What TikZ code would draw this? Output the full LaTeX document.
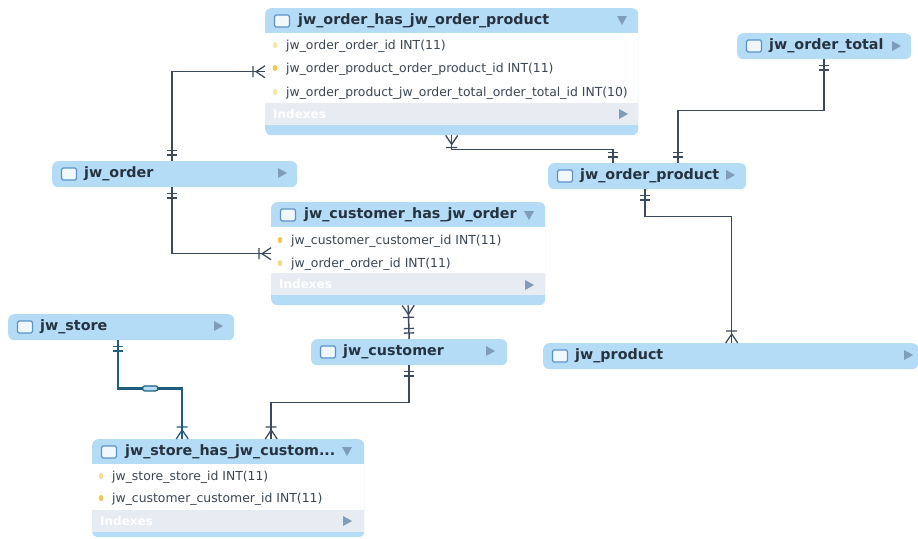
\documentclass[tikz,border=0pt]{standalone}
\usepackage{fontspec}
\setmainfont{DejaVu Sans}
\usetikzlibrary{arrows}
\definecolor{hdrblue}{HTML}{B4DCF6}
\definecolor{idxgray}{HTML}{E7EBF2}
\definecolor{linedark}{HTML}{3B4A5C}
\definecolor{linestore}{HTML}{1F5D7E}
\definecolor{tricol}{HTML}{7F9DB8}
\definecolor{keyyellow}{HTML}{F4C84E}
\definecolor{titlecol}{HTML}{26323F}
\definecolor{rowcol}{HTML}{3A4654}
\definecolor{iconblue}{HTML}{5B93C8}
\newcommand{\storetitle}{jw\_store\_has\_jw\_custom...}
\pgfarrowsdeclare{crow}{crow}
  {\pgfarrowsleftextend{-14pt}\pgfarrowsrightextend{0pt}}
  {\pgfsetdash{}{0pt}\pgfsetlinewidth{1.3pt}
   \pgfpathmoveto{\pgfpoint{0pt}{6pt}}\pgfpathlineto{\pgfpoint{-9pt}{0pt}}\pgfpathlineto{\pgfpoint{0pt}{-6pt}}
   \pgfpathmoveto{\pgfpoint{-12pt}{5.5pt}}\pgfpathlineto{\pgfpoint{-12pt}{-5.5pt}}
   \pgfusepathqstroke}
\pgfarrowsdeclare{one}{one}
  {\pgfarrowsleftextend{-12pt}\pgfarrowsrightextend{0pt}}
  {\pgfsetdash{}{0pt}\pgfsetlinewidth{1.3pt}
   \pgfpathmoveto{\pgfpoint{-6pt}{5pt}}\pgfpathlineto{\pgfpoint{-6pt}{-5pt}}
   \pgfpathmoveto{\pgfpoint{-10.5pt}{5pt}}\pgfpathlineto{\pgfpoint{-10.5pt}{-5pt}}
   \pgfusepathqstroke}
\begin{document}
\begin{tikzpicture}
  [x=1pt,y=-1pt,
   entity/.style={rectangle,rounded corners=6pt,fill=hdrblue,anchor=north west,inner sep=0pt},
   title/.style={anchor=west,inner sep=0pt,font=\bfseries\fontsize{14.3}{16}\selectfont,text=titlecol},
   rowtext/.style={anchor=west,inner sep=0pt,font=\fontsize{12.4}{14}\selectfont,text=rowcol},
   idxtext/.style={anchor=west,inner sep=0pt,font=\bfseries\fontsize{12}{14}\selectfont,text=white},
   icon/.style={rectangle,rounded corners=1.5pt,draw=iconblue,fill=white!80!hdrblue,line width=1.2pt,minimum width=15pt,minimum height=12pt,inner sep=0pt},
   keydot/.style={rectangle,rounded corners=1.5pt,fill=keyyellow,inner sep=0pt,minimum width=4pt,minimum height=6pt},
   rel/.style={draw=linedark,line width=1.5pt},
   relid/.style={draw=linestore,line width=2.5pt},
   pill/.style={rectangle,rounded corners=2pt,draw=linestore,fill=hdrblue,line width=1.2pt,minimum width=15pt,minimum height=5pt,inner sep=0pt},]

\useasboundingbox (0,0) rectangle (918,538);
\fill[white] (0,0) rectangle (918,538);

% collapsed tables
\foreach \nm/\x/\y/\w/\t in {jworder/52/161/245/jw\_order,
  jwstore/8/314/226/jw\_store,
  jwcustomer/311/339/196/jw\_customer,
  jwproduct/543/343/375/jw\_product,
  jworderproduct/548/163/198/jw\_order\_product,
  jwordertotal/737/33/174/jw\_order\_total}
{
  \node[entity,minimum width=\w pt,minimum height=26pt] (\nm) at (\x,\y) {};
  \node[icon] (\nm icon) at (\x+17,\y+13) {};
  \node[title] (\nm title) at (\x+32,\y+13) {\t};
}

% open tables
\foreach \nm/\x/\y/\w/\h/\hb/\t in {hasproduct/265/8/373/127/95/jw\_order\_has\_jw\_order\_product,
  hasorder/271/202/274/103/71/jw\_customer\_has\_jw\_order,
  hascustomer/92/439/272/98/71/\storetitle}
{
  \node[entity,minimum width=\w pt,minimum height=\h pt] (\nm) at (\x,\y) {};
  \fill[white] (\x,\y+25) rectangle (\x+\w,\y+\hb);
  \fill[idxgray] (\x,\y+\hb) rectangle (\x+\w,\y+\hb+22);
  \node[icon] (\nm icon) at (\x+17,\y+13) {};
  \node[title] (\nm title) at (\x+33,\y+13) {\t};
  \node[idxtext] (\nm idx) at (\x+8,\y+\hb+11) {Indexes};
}

% columns
\foreach \nm/\x/\y/\k/\t in {rowa/286/46/50/jw\_order\_order\_id INT(11),
  rowb/286/69/100/jw\_order\_product\_order\_product\_id INT(11),
  rowc/286/93/50/jw\_order\_product\_jw\_order\_total\_order\_total\_id INT(10),
  rowd/291/241/100/jw\_customer\_customer\_id INT(11),
  rowe/291/264/70/jw\_order\_order\_id INT(11),
  rowf/112/477/60/jw\_store\_store\_id INT(11),
  rowg/112/499/100/jw\_customer\_customer\_id INT(11)}
{
  \node[rowtext] (\nm) at (\x,\y) {\t};
  \node[keydot,fill=keyyellow!\k!white] (\nm key) at (\x-11,\y-1) {};
}

% right and down triangles
\foreach \x/\y in {282/173,218/326,490/351,908/355,730/175,896/46,623/114,529/285,347/521}
  \fill[tricol] (\x-4,\y-5) -- (\x+5,\y) -- (\x-4,\y+5) -- cycle;
\foreach \x/\y in {622/20,529/215,347/451}
  \fill[tricol] (\x-5,\y-4) -- (\x+5,\y-4) -- (\x,\y+5) -- cycle;

% relations
\draw[rel,crow-one] (hasproduct.west) -| ([xshift=-2.5pt]jworder.north);
\draw[rel,crow-one] (hasorder.west) -| ([xshift=-2.5pt]jworder.south);
\draw[rel,crow-one] (hasproduct.south) -- ++(0,14) -| ([xshift=-34pt]jworderproduct.north);
\draw[rel,one-one] (jwordertotal.south) -- ++(0,51) -| ([xshift=31pt]jworderproduct.north);
\draw[rel,one-crow] ([xshift=-2pt]jworderproduct.south) -- ++(0,27) -| ([xshift=1pt]jwproduct.north);
\draw[rel,crow-one] (hasorder.south) -- (jwcustomer.north);
\draw[rel,one-crow] (jwcustomer.south) -- ++(0,37) -| ([xshift=43pt]hascustomer.north);
\draw[relid,one-crow] ([xshift=-3pt]jwstore.south) -- ++(0,48) -| node[pill,pos=.25] (storepill) {} ([xshift=-46pt]hascustomer.north);

\end{tikzpicture}
\end{document}
